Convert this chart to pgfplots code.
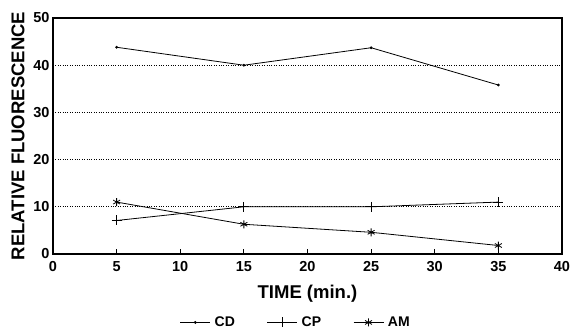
\documentclass[border=0pt]{standalone}
\usepackage{fontspec}
\setmainfont{Liberation Sans}
\usepackage{pgfplots}
\pgfplotsset{compat=1.18}
\begin{document}
\begin{tikzpicture}
\useasboundingbox (-53pt,-79pt) rectangle (517pt,254pt);
\begin{axis}[
  name=ax, at={(0,0)}, anchor=south west,
  scale only axis, width=509pt, height=236pt,
  xmin=0, xmax=40, ymin=0, ymax=50,
  xtick={0,5,...,40}, ytick={0,10,...,50},
  xtick pos=bottom, tick align=inside, major tick length=5pt,
  ytick style={draw=none},
  xtick style={line width=1pt, black},
  ymajorgrids, grid style={dotted, black, line width=0.7pt},
  axis line style={line width=1.2pt},
  /pgf/number format/assume math mode=true,
  ticklabel style={font=\fontsize{14.5}{14.5}\selectfont\bfseries},
  xticklabel style={yshift=-4pt},
  xlabel={TIME (min.)}, ylabel={RELATIVE FLUORESCENCE},
  label style={font=\fontsize{18.5}{18.5}\selectfont\bfseries},
  xlabel style={yshift=-6pt},
  ylabel style={yshift=2pt},
  legend style={at={(0.477,-0.29)}, anchor=center, draw=none, legend columns=3,
    font=\fontsize{14}{14}\selectfont\bfseries,
    /tikz/every odd column/.append style={column sep=2pt},
    /tikz/every even column/.append style={column sep=30pt}},
  legend image code/.code={\draw[mark repeat=2,mark phase=2] plot coordinates {(0pt,0pt)(15pt,0pt)(30pt,0pt)};},
]
\addplot[black, line width=0.8pt, mark=*, mark size=1pt] coordinates {(5,43.8) (15,40.0) (25,43.7) (35,35.8)};
\addlegendentry{CD}
\addplot[black, line width=0.8pt, mark=+, mark size=5pt] coordinates {(5,7.1) (15,10.0) (25,10.0) (35,11.0)};
\addlegendentry{CP}
\addplot[black, line width=0.8pt, mark=asterisk, mark size=4pt] coordinates {(5,11.0) (15,6.3) (25,4.6) (35,1.8)};
\addlegendentry{AM}
\end{axis}
\end{tikzpicture}
\end{document}
